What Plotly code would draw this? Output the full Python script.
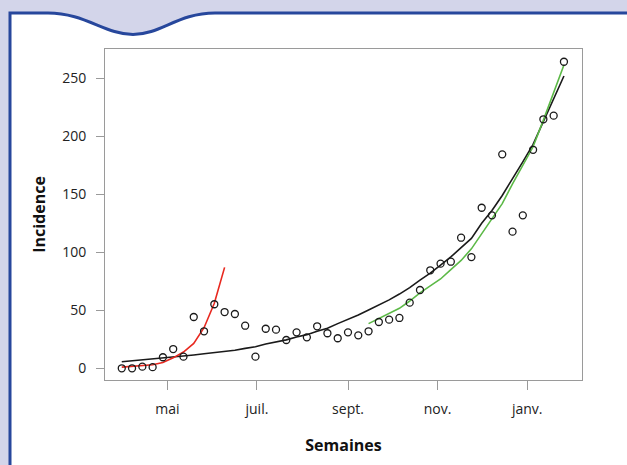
import pandas as pd
import plotly.graph_objects as go

# ---- data ----
weeks = pd.date_range("2009-03-31", periods=44, freq="7D")

observed = [0, 0, 1.4, 1, 9.5, 16.6, 10, 44.2, 31.9, 55.2,
            48.5, 46.8, 36.7, 10, 34.1, 33.3, 24.4, 31, 26.7, 36.2,
            30.2, 25.9, 31, 28.4, 31.9, 39.9, 41.9, 43.4, 56.6, 67.5,
            84.5, 90.2, 91.9, 112.6, 95.9, 138.4, 131.9, 184.5, 117.8, 131.9,
            188.4, 214.7, 217.8, 264.3]

fit_black = [5.7, 6.5, 7.5, 8, 8.5, 9.5, 10.3, 11.5, 12.5, 13.5,
             14.3, 15.5, 17.2, 18.5, 21, 22.5, 24.5, 27, 29, 32,
             34.5, 38.5, 42, 46, 50.3, 54.5, 59, 64, 69.5, 76,
             82, 89, 96, 104, 112, 125, 136, 149, 163, 178,
             193, 213, 232, 252]

fit_red = [1, 1.5, 2.2, 3, 5, 9, 14, 21.5, 35, 56, 87]          # weeks 0..10
fit_green = [38.5, 43, 47.5, 51.7, 58, 65, 71, 77, 85, 93,
             103, 116, 128, 142, 159, 175, 191, 214, 237, 261.5]  # weeks 24..43

tick_dates = ["2009-05-01", "2009-07-01", "2009-09-01", "2009-11-01", "2010-01-01"]
tick_text = ["mai", "juil.", "sept.", "nov.", "janv."]
y_ticks = [0, 50, 100, 150, 200, 250]

# ---- styling ----
FONT = "Open Sans"
LAV = "#d3d5ea"
BLUE = "#27479c"
GREY = "#9a9a9a"

W, H = 627, 465
L, R, T, B = 105, 45, 49, 85
pw, ph = W - L - R, H - T - B


def P(x, y):
    return f"{(x - L) / pw:.5f},{(H - B - y) / ph:.5f}"


panel = (f"M {P(10, 480)} L {P(10, 13)} L {P(48, 13)} "
         f"C {P(85, 13)} {P(105, 34.5)} {P(133, 34.5)} "
         f"C {P(161, 34.5)} {P(178, 13)} {P(215, 13)} "
         f"L {P(650, 13)} L {P(650, 480)} Z")

fig = go.Figure()
fig.add_trace(go.Scatter(x=weeks, y=fit_black, mode="lines",
                         line=dict(color="#1a1a1a", width=1.6), hoverinfo="skip"))
fig.add_trace(go.Scatter(x=weeks[:len(fit_red)], y=fit_red, mode="lines",
                         line=dict(color="#e8281f", width=1.6), hoverinfo="skip"))
fig.add_trace(go.Scatter(x=weeks[24:24 + len(fit_green)], y=fit_green, mode="lines",
                         line=dict(color="#5cb947", width=1.6), hoverinfo="skip"))
fig.add_trace(go.Scatter(x=weeks, y=observed, mode="markers",
                         marker=dict(symbol="circle-open", size=7, color="#1a1a1a",
                                     line=dict(width=1.3, color="#1a1a1a"))))

fig.update_layout(
    width=W, height=H,
    margin=dict(l=L, r=R, t=T, b=B, pad=0),
    paper_bgcolor=LAV, plot_bgcolor="white",
    showlegend=False,
    font=dict(family=FONT, size=14, color="#222"),
    shapes=[dict(type="path", path=panel, xref="paper", yref="paper",
                 fillcolor="white", line=dict(color=BLUE, width=3), layer="below")],
)
fig.update_xaxes(
    range=["2009-03-19 14:00", "2010-02-07 07:00"],
    tickvals=tick_dates, ticktext=tick_text,
    showgrid=False, zeroline=False,
    showline=True, mirror=True, linecolor=GREY, linewidth=1,
    ticks="outside", ticklen=9, tickcolor=GREY, tickwidth=1,
    ticklabelstandoff=7,
    tickfont=dict(size=14, color="#222"),
    title=dict(text="<b>Semaines</b>", font=dict(size=16, color="#111"), standoff=23),
)
fig.update_yaxes(
    range=[-10.1, 275.3],
    tickvals=y_ticks,
    showgrid=False, zeroline=False,
    showline=True, mirror=True, linecolor=GREY, linewidth=1,
    ticks="outside", ticklen=8, tickcolor=GREY, tickwidth=1,
    ticklabelstandoff=7,
    tickfont=dict(size=14, color="#222"),
    title=dict(text="<b>Incidence</b>", font=dict(size=16, color="#111"), standoff=12),
)

fig.write_html("out.html", config={"displayModeBar": False},
               post_script="document.body.style.margin='0';document.body.style.overflow='hidden';")
